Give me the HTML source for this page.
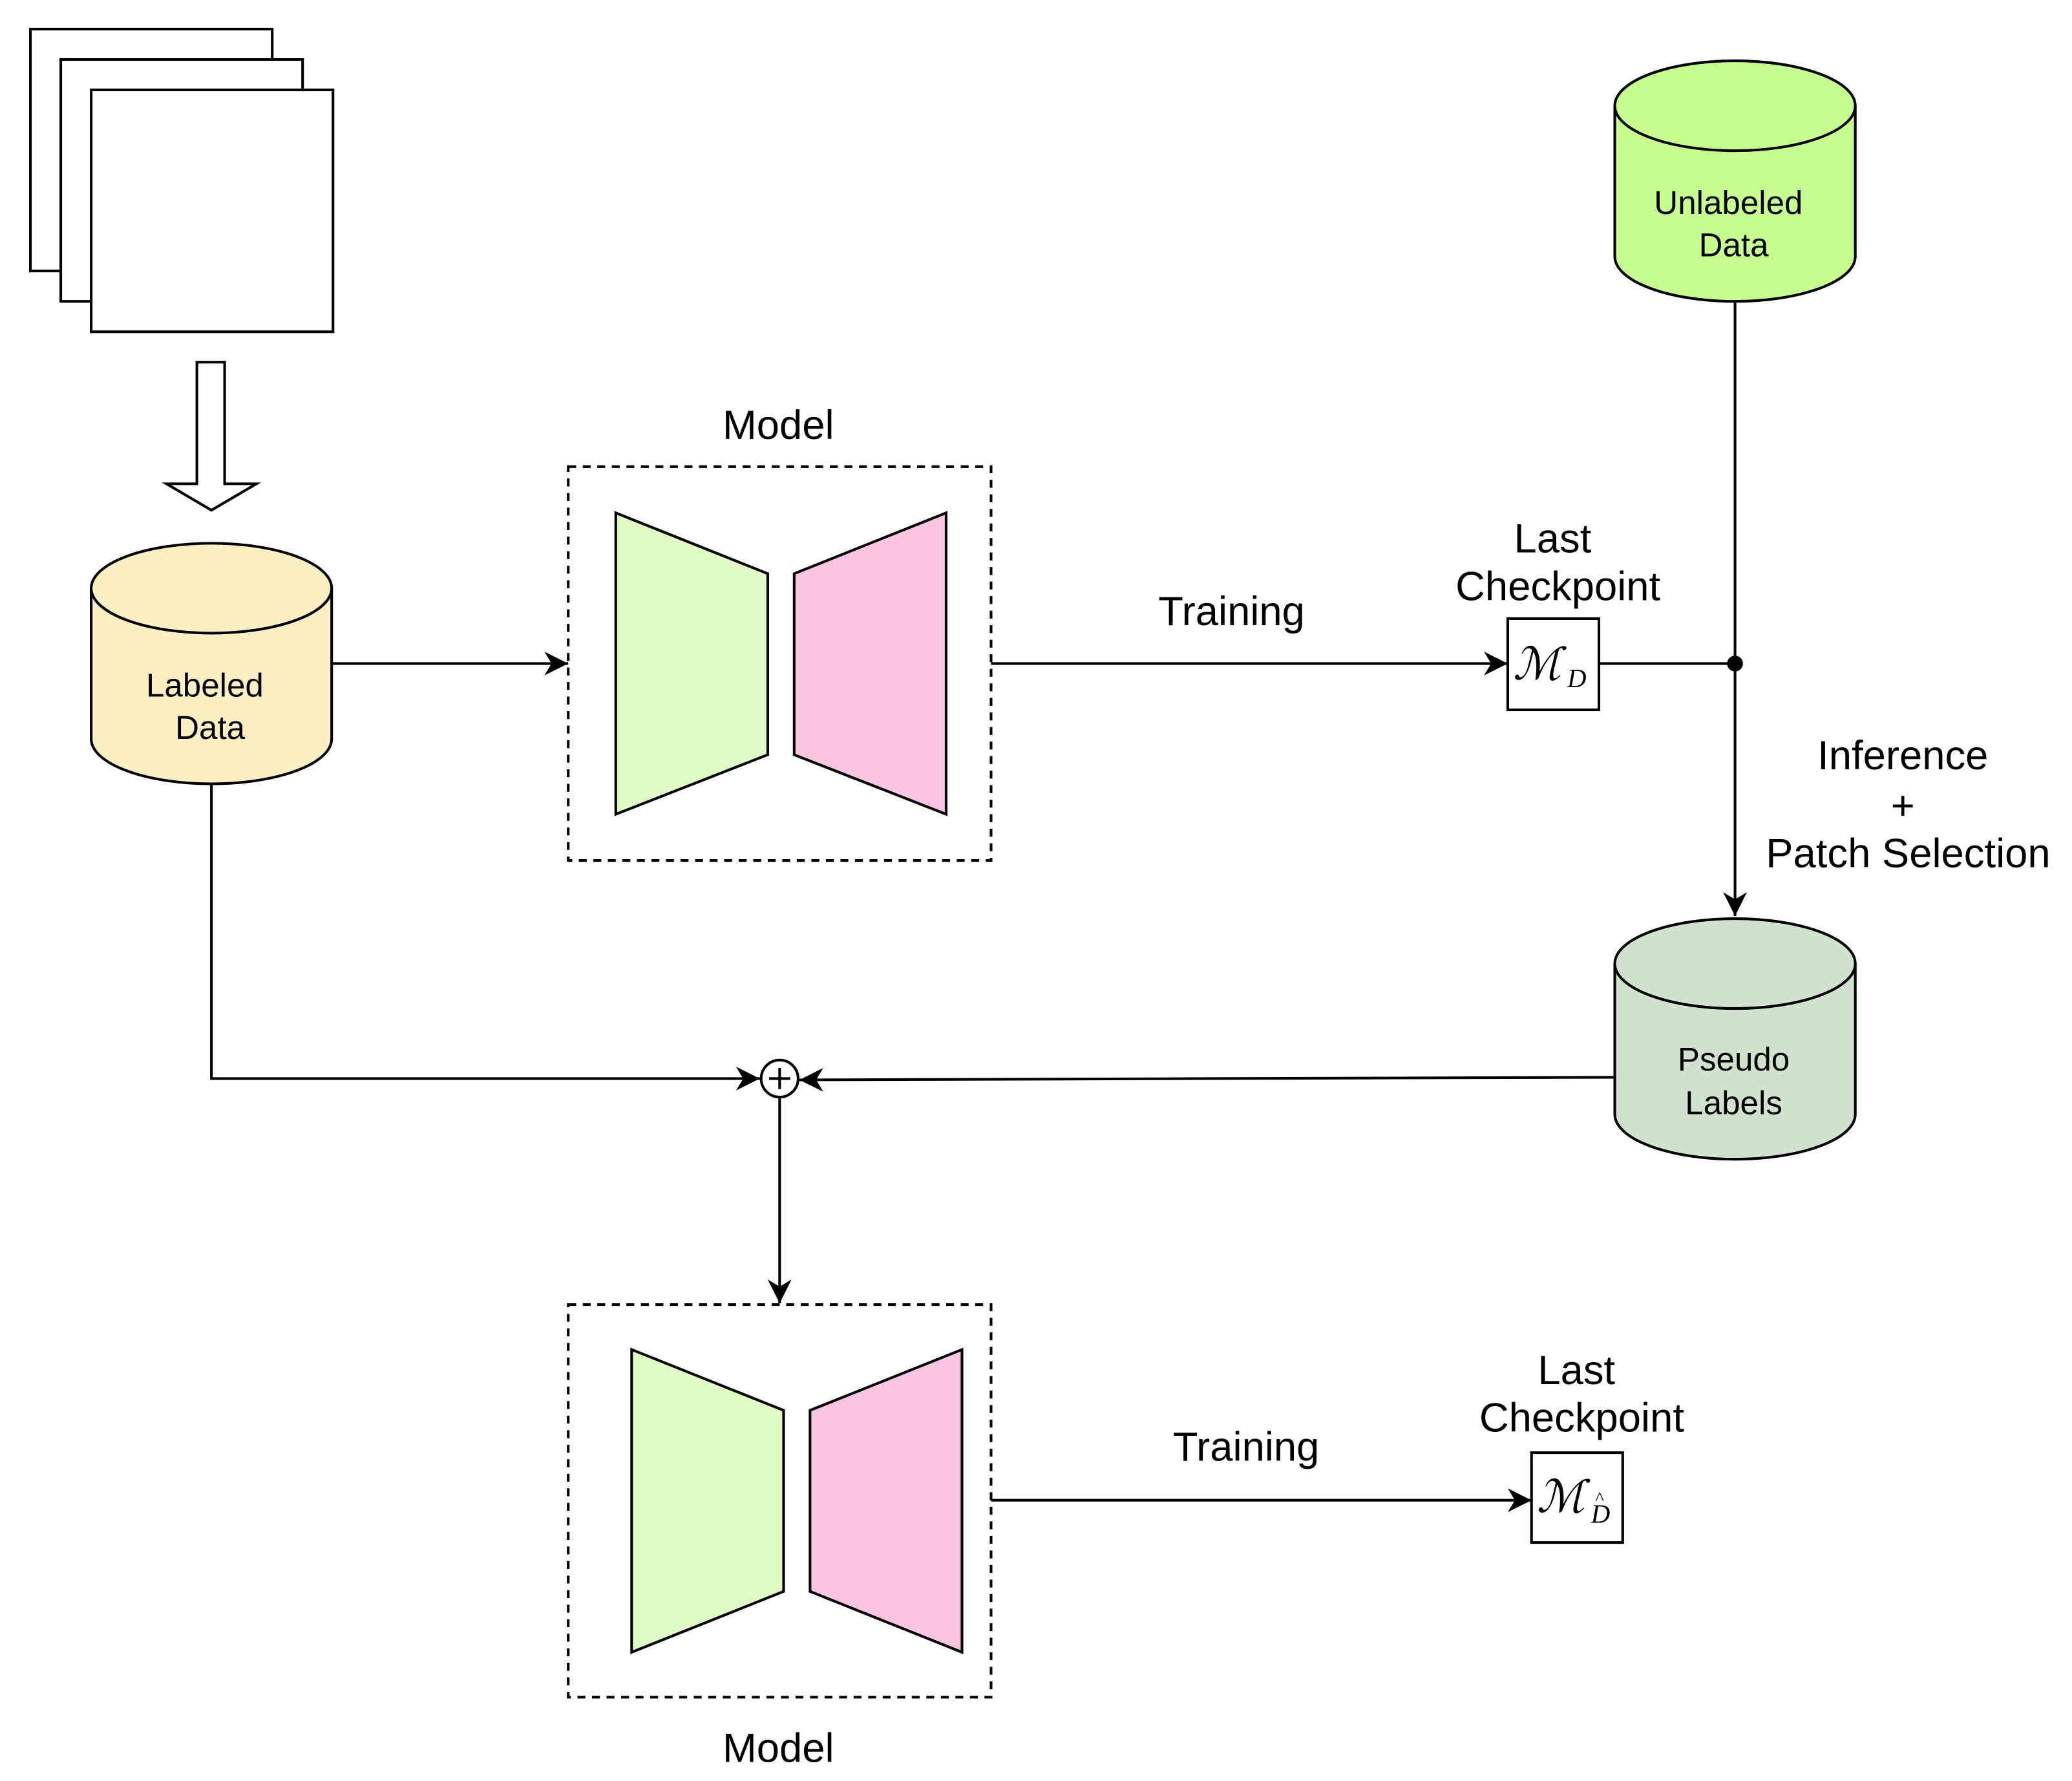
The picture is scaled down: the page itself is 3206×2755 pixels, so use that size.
<!DOCTYPE html>
<html><head><style>html,body{margin:0;padding:0;background:#fff}svg{display:block}</style></head>
<body>
<svg width="3206" height="2755" viewBox="0 0 1568 1347.4" xmlns="http://www.w3.org/2000/svg" font-family="Liberation Sans, sans-serif">
<defs>
<marker id="a" viewBox="0 0 10 10" refX="10" refY="5" markerWidth="9" markerHeight="9" markerUnits="userSpaceOnUse" orient="auto"><path d="M0,0 L10,5 L0,10 L3,5 z" fill="#000"/></marker>
<marker id="b" viewBox="0 0 10 10" refX="10" refY="5" markerWidth="18" markerHeight="18" markerUnits="userSpaceOnUse" orient="auto"><path d="M0,0 L10,5 L0,10 L3,5 z" fill="#000"/></marker>
</defs>
<g stroke="#000" stroke-width="2" fill="#fff">
<rect x="23" y="22" width="183" height="183"/>
<rect x="46" y="45" width="183" height="183"/>
<rect x="69" y="68" width="183" height="183"/>
<path d="M149,274 H170 V366 H194 L160,386 L126,366 H149 Z"/>
</g>
<!-- cylinders -->
<g stroke="#000" stroke-width="2">
<path d="M69,445 V559 A91,34 0 0 0 251,559 V445" fill="#fcefc3"/>
<ellipse cx="160" cy="445" rx="91" ry="34" fill="#fcefc3"/>
<path d="M1222,80 V194 A91,34 0 0 0 1404,194 V80" fill="#c6fe8f"/>
<ellipse cx="1313" cy="80" rx="91" ry="34" fill="#c6fe8f"/>
<path d="M1222,729 V843 A91,34 0 0 0 1404,843 V729" fill="#cfe3cd"/>
<ellipse cx="1313" cy="729" rx="91" ry="34" fill="#cfe3cd"/>
</g>
<g font-size="25" text-anchor="middle">
<text x="155" y="527">Labeled</text><text x="159" y="559">Data</text>
<text x="1308" y="162">Unlabeled</text><text x="1312" y="194">Data</text>
<text x="1312" y="810">Pseudo</text><text x="1312" y="843">Labels</text>
</g>
<!-- models -->
<g stroke="#000" stroke-width="2">
<rect x="430" y="353" width="320" height="298" fill="none" stroke-dasharray="6,5"/>
<polygon points="466,388 581,434 581,571 466,616" fill="#e0fcc5"/>
<polygon points="716,388 601,434 601,571 716,616" fill="#fac4e3"/>
<rect x="430" y="987" width="320" height="297" fill="none" stroke-dasharray="6,5"/>
<polygon points="478,1021 593,1067 593,1204 478,1250" fill="#e0fcc5"/>
<polygon points="728,1021 613,1067 613,1204 728,1250" fill="#fac4e3"/>
<rect x="1141" y="468" width="69" height="69" fill="#fff"/>
<rect x="1159" y="1099" width="69" height="68" fill="#fff"/>
</g>
<!-- connectors -->
<g stroke="#000" stroke-width="2" fill="none">
<path d="M251,502 H430" marker-end="url(#b)"/>
<path d="M750,502 H1141" marker-end="url(#b)"/>
<path d="M1210,502 H1313"/>
<path d="M1313,228 V693" marker-end="url(#b)"/>
<path d="M160,593 V816 H575" marker-end="url(#b)"/>
<path d="M1222,815 L605,817" marker-end="url(#b)"/>
<path d="M590,831 V986" marker-end="url(#b)"/>
<path d="M750,1135 H1159" marker-end="url(#b)"/>
<circle cx="590" cy="816" r="14" fill="#fff"/>
<path d="M582,816 H598 M590,808 V824"/>
</g>
<circle cx="1313" cy="502" r="6" fill="#000"/>
<g font-size="31" text-anchor="middle">
<text x="589" y="332">Model</text>
<text x="589" y="1333">Model</text>
<text x="932" y="473">Training</text>
<text x="943" y="1105">Training</text>
<text x="1175" y="418">Last</text><text x="1179" y="454">Checkpoint</text>
<text x="1193" y="1047">Last</text><text x="1197" y="1083">Checkpoint</text>
<text x="1440" y="582">Inference</text><text x="1440" y="620">+</text><text x="1444" y="656">Patch Selection</text>
</g>
<g font-family="Liberation Serif, serif" font-style="italic">
<text x="1145" y="514" font-size="34">ℳ</text><text x="1186" y="520" font-size="20">D</text>
<text x="1163" y="1144" font-size="34">ℳ</text><text x="1204" y="1152" font-size="20">D</text><text x="1207" y="1138" font-size="14">^</text>
</g>
</svg>
</body></html>
